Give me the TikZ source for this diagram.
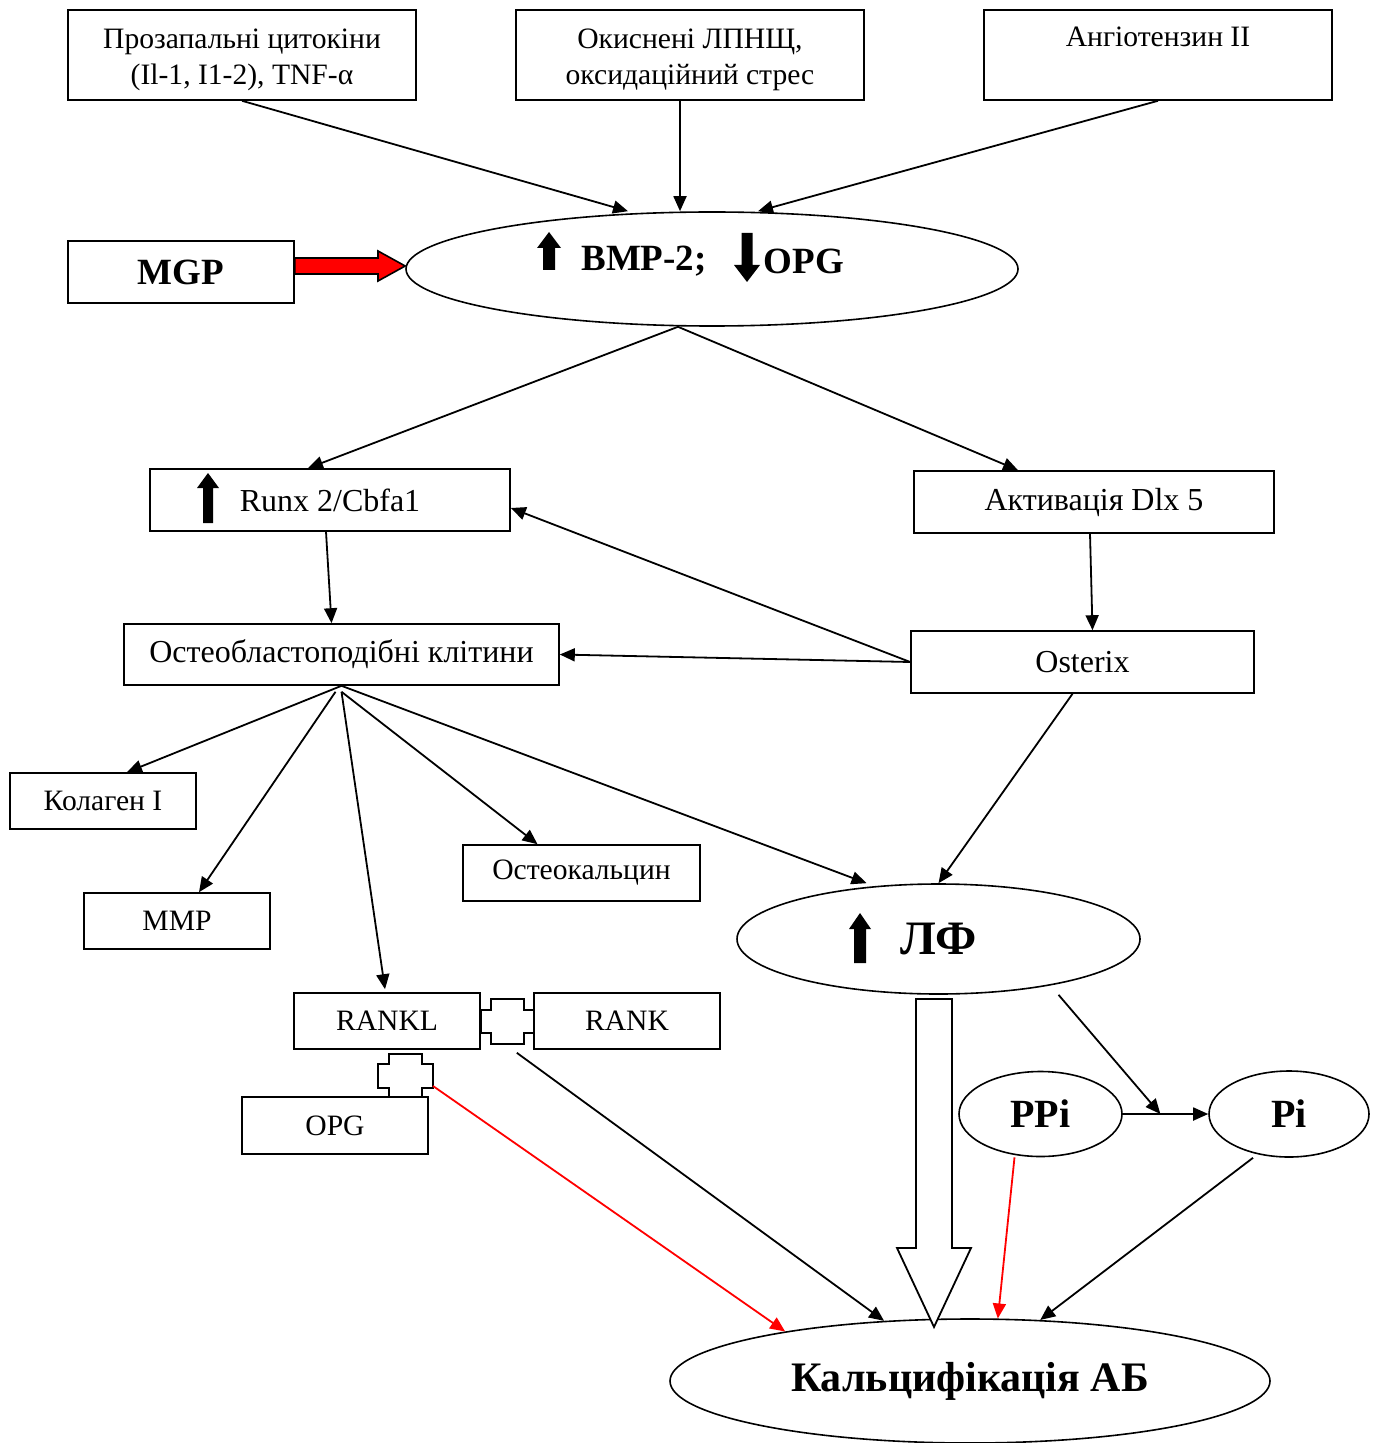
\documentclass[tikz,border=0pt]{standalone}
\usepackage{fontspec}
\setmainfont{Liberation Serif}
\usepackage{tikz}
\usetikzlibrary{arrows, arrows.meta, calc, shapes}

\tikzset{
  box/.style={draw, rectangle, line width=0.8pt, inner sep=0pt, align=center, font=\fontsize{14.8}{18}\selectfont},
  midbox/.style={box, font=\fontsize{16}{19}\selectfont},
  oval/.style={draw, ellipse, line width=0.8pt, inner sep=0pt, font=\bfseries\fontsize{20}{24}\selectfont},
  arr/.style={-{Triangle[length=7.5pt,width=6.5pt]}, line width=0.9pt},
  redarr/.style={arr, red},
  hollow/.style={draw, line width=0.9pt, fill=white},
}

\begin{document}
\begin{tikzpicture}[x=0.5pt, y=-0.5pt]
\useasboundingbox (0,0) rectangle (1376,1443);

% sources
\node (cyto)[box, minimum width=174pt, minimum height=45pt] at (242,55) {\rule{0pt}{15pt}Прозапальні цитокіни\\(Il-1, I1-2), TNF-α};
\node (ldl)[box, minimum width=174pt, minimum height=45pt] at (690,55) {\rule{0pt}{15pt}Окиснені ЛПНЩ,\\оксидаційний стрес};
\node (angio)[box, minimum width=174pt, minimum height=45pt] at (1158,55) {\rule{0pt}{15pt}Ангіотензин II\\\strut};
\node (mgp)[box, minimum width=113pt, minimum height=31pt, font=\bfseries\fontsize{18.5}{22}\selectfont] at (181,272) {MGP};
\node (bmp)[oval, minimum width=306pt, minimum height=57pt] at (712,269) {};
\node (bmplbl)[font=\bfseries\fontsize{18.5}{22}\selectfont] at (644,261) {BMP-2;};
\node (opglbl)[font=\bfseries\fontsize{18.5}{22}\selectfont] at (804,261) {OPG};

% transcription
\node (runx)[midbox, minimum width=180pt, minimum height=31pt] at (330,500) {Runx 2/Cbfa1};
\node (dlx)[midbox, minimum width=180pt, minimum height=31pt] at (1094,502) {Активація Dlx 5};
\node (osterix)[midbox, minimum width=171.5pt, minimum height=31pt] at (1082.5,662) {Osterix};
\node (osteo)[midbox, minimum width=217.5pt, minimum height=30.5pt] at (341.5,654.5) {Остеобластоподібні клітини};

% products
\node (kolagen)[box, minimum width=93pt, minimum height=28pt] at (103,801) {Колаген I};
\node (mmp)[box, minimum width=93pt, minimum height=28pt] at (177,921) {MMP};
\node (okal)[box, minimum width=118.5pt, minimum height=28pt] at (581.5,873) {Остеокальцин};
\node (rankl)[box, minimum width=93pt, minimum height=28pt] at (387,1021) {RANKL};
\node (rank)[box, minimum width=93pt, minimum height=28pt] at (627,1021) {RANK};
\node (opg)[box, minimum width=93pt, minimum height=28.5pt] at (335,1125.5) {OPG};
\node (lf)[oval, minimum width=201.5pt, minimum height=55pt, font=\bfseries\fontsize{24}{28}\selectfont] at (938.5,939) {ЛФ};
\node (ppi)[oval, minimum width=81.5pt, minimum height=42.5pt] at (1040.5,1114) {PPi};
\node (pi)[oval, minimum width=80pt, minimum height=43pt] at (1289,1114) {Pi};
\node (kalc)[oval, minimum width=300pt, minimum height=62pt, font=\bfseries\fontsize{21}{25}\selectfont] at (970,1381) {Кальцифікація АБ};

\coordinate (pmid) at ($(ppi.east)!0.44!(pi.west)$);
\coordinate (xopg) at (433,1086);

% up / down marks
\fill (549,232) -- (561,248) -- (555,248) -- (555,270) -- (543,270) -- (543,248) -- (537,248) -- cycle;
\fill (747,282) -- (760,265) -- (752.5,265) -- (752.5,233) -- (741.5,233) -- (741.5,265) -- (734,265) -- cycle;
\fill (208,473) -- (219,488) -- (213,488) -- (213,523) -- (203,523) -- (203,488) -- (197,488) -- cycle;
\fill (860,913) -- (871,929) -- (866,929) -- (866,963) -- (854,963) -- (854,929) -- (849,929) -- cycle;

% MGP block arrow
\draw[line width=0.8pt, fill=red] (mgp.east |- 0,258) -- (378,258) -- (378,251) -- (bmp.west |- 0,266) -- (378,281) -- (378,274) -- (mgp.east |- 0,274) -- cycle;

% receptor crosses
\draw[line width=0.8pt] (491,999) -- (524,999) -- (524,1010) -- (534,1010) -- (534,1033) -- (524,1033) -- (524,1044) -- (491,1044) -- (491,1033) -- (481,1033) -- (481,1010) -- (491,1010) -- cycle;
\draw[line width=0.8pt] (389,1054) -- (422,1054) -- (422,1064) -- (433,1064) -- (433,1088) -- (422,1088) -- (422,1097) -- (389,1097) -- (389,1088) -- (378,1088) -- (378,1064) -- (389,1064) -- cycle;

% big hollow arrow
\draw[hollow] (916,999) -- (952,999) -- (952,1248) -- (971,1248) -- (934,1327) -- (897,1248) -- (916,1248) -- cycle;

% connectors
\draw[arr] (cyto.south) -- ([xshift=-42pt]bmp.north);
\draw[arr] ([xshift=-5pt]ldl.south) -- ([xshift=-16pt]bmp.north);
\draw[arr] (angio.south) -- ([xshift=23pt]bmp.north);
\draw[arr] ([xshift=-17pt]bmp.south) -- ([xshift=-11pt]runx.north);
\draw[arr] ([xshift=-17pt]bmp.south) -- ([xshift=-38pt]dlx.north);
\draw[arr] ([xshift=-2pt]dlx.south) -- ([xshift=5pt]osterix.north);
\draw[arr] (osterix.west) -- ([yshift=-4pt]runx.east);
\draw[arr] (osterix.west) -- (osteo.east);
\draw[arr] ([xshift=-2pt]runx.south) -- ([xshift=-5pt]osteo.north);
\draw[arr] (osteo.south) -- ([xshift=12pt]kolagen.north);
\draw[arr] ([xshift=-3pt,yshift=-3pt]osteo.south) -- ([xshift=11pt]mmp.north);
\draw[arr] ([yshift=-3pt]osteo.south) -- ([xshift=-1pt,yshift=1.5pt]rankl.north);
\draw[arr] ([yshift=-3pt]osteo.south) -- ([xshift=-22pt]okal.north);
\draw[arr] (osteo.south) -- ([xshift=-36pt]lf.north);
\draw[arr] ([xshift=-5pt]osterix.south) -- (lf.north);
\draw[arr] ([xshift=60pt]lf.south) -- (pmid);
\draw[arr] (ppi.east) -- (pi.west);
\draw[redarr] (xopg) -- (kalc.165);
\draw[arr] ([xshift=18pt,yshift=-1.5pt]rankl.south east) -- (kalc.145);
\draw[redarr] ([xshift=-13pt]ppi.south) -- (kalc.66);
\draw[arr] ([xshift=-18pt]pi.south) -- (kalc.41);
\end{tikzpicture}
\end{document}
